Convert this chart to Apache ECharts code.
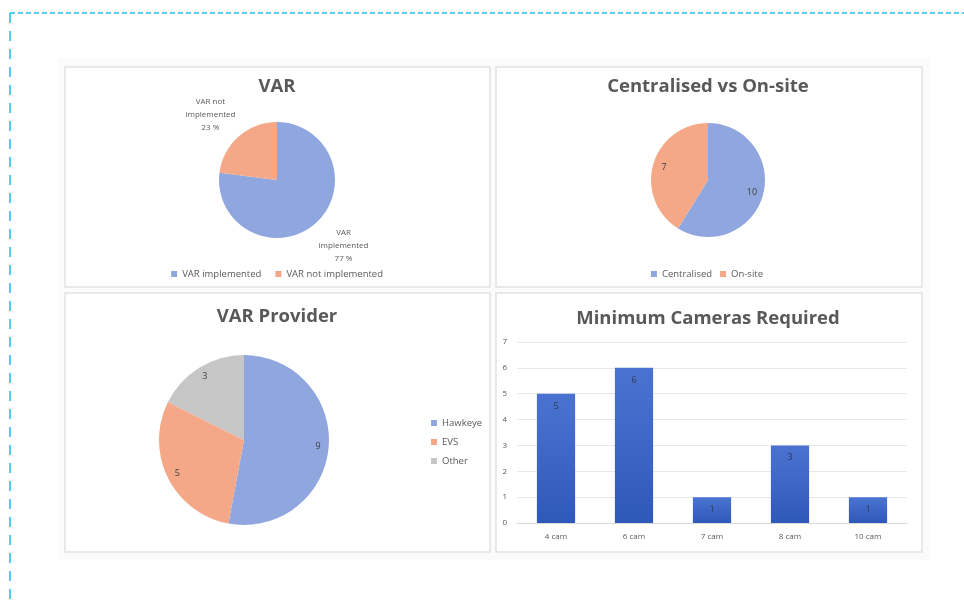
<!DOCTYPE html>
<html style="height: 100%">
<head>
    <meta charset="utf-8">
</head>
<body style="height: 100%; margin: 0; background: #fff">
<div id="container" style="width: 964px; height: 604px"></div>
<script type="text/javascript" src="https://cdn.jsdelivr.net/npm/echarts@6/dist/echarts.min.js"></script>
<script type="text/javascript">
    // data
    var varNames = ['VAR implemented', 'VAR not implemented'];
    var varLabels = ['VAR\nimplemented', 'VAR not\nimplemented'];
    var varValues = [77, 23];

    var siteNames = ['Centralised', 'On-site'];
    var siteValues = [10, 7];

    var providerNames = ['Hawkeye', 'EVS', 'Other'];
    var providerValues = [9, 5, 3];

    var camCategories = ['4 cam', '6 cam', '7 cam', '8 cam', '10 cam'];
    var camValues = [5, 6, 1, 3, 1];

    var pieColors = ['#8fa6de', '#f4a887', '#c6c6c6'];
    var textColor = '#595959';
    var font = 'Open Sans';

    function pieData(names, values) {
        return names.map(function (n, i) {
            return {name: n, value: values[i], itemStyle: {color: pieColors[i]}};
        });
    }
    function legendData(names) {
        return names.map(function (n, i) {
            return {name: n, itemStyle: {color: pieColors[i]}};
        });
    }

    var dom = document.getElementById("container");
    var myChart = echarts.init(dom);

    function titleItem(text, x, y) {
        return {
            text: text, left: x, top: y, textAlign: 'center', padding: 0,
            textStyle: {fontFamily: font, fontSize: 18.5, fontWeight: 'bold', color: textColor}
        };
    }

    function panel(x, y, w, h) {
        return {
            type: 'rect', silent: true,
            shape: {x: x, y: y, width: w, height: h},
            style: {fill: '#fff', stroke: '#e2e2e2', lineWidth: 1.5}
        };
    }

    var legendText = {fontFamily: font, fontSize: 9.5, color: textColor};

    // label-only ring so inside labels sit out toward the rim like the original
    function labelRing(name, center, r, frac, names, values) {
        return {
            name: name, type: 'pie', center: center, radius: [r * frac, r],
            silent: true, z: 5, startAngle: 90,
            label: {position: 'inside', color: '#404040', fontFamily: font, fontSize: 9,
                formatter: '{c}'},
            labelLine: {show: false},
            emphasis: {disabled: true},
            data: names.map(function (n, i) {
                return {name: n, value: values[i], itemStyle: {color: 'transparent'}};
            })
        };
    }

    var option = {
        animation: false,
        backgroundColor: '#fff',
        graphic: [
            {type: 'line', silent: true, shape: {x1: 10, y1: 13, x2: 964, y2: 13},
                style: {stroke: '#14bff0', lineWidth: 1.5, lineDash: [5, 3]}},
            {type: 'line', silent: true, shape: {x1: 10, y1: 13, x2: 10, y2: 604},
                style: {stroke: '#14bff0', lineWidth: 1.5, lineDash: [10, 8]}},
            {type: 'rect', silent: true, shape: {x: 58, y: 58, width: 872, height: 502},
                style: {fill: '#fbfbfb'}},
            panel(65, 67, 425, 220),
            panel(496, 67, 426, 220),
            panel(65, 293, 425, 259),
            panel(496, 293, 426, 259)
        ],
        title: [
            titleItem('VAR', 277, 77),
            titleItem('Centralised vs On-site', 708, 77),
            titleItem('VAR Provider', 277, 307),
            titleItem('Minimum Cameras Required', 708, 309)
        ],
        legend: [
            {data: legendData(varNames), right: 964 - 388, top: 264, itemWidth: 6, itemHeight: 6,
                itemGap: 14, icon: 'rect', textStyle: legendText, selectedMode: false},
            {data: legendData(siteNames), right: 964 - 768, top: 264, itemWidth: 6, itemHeight: 6,
                itemGap: 8, icon: 'rect', textStyle: legendText, selectedMode: false},
            {data: legendData(providerNames), orient: 'vertical', left: 426, top: 413, itemWidth: 6, itemHeight: 6,
                itemGap: 9, icon: 'rect', textStyle: legendText, selectedMode: false}
        ],
        grid: {left: 517, right: 57, top: 342, bottom: 81},
        xAxis: {
            type: 'category', data: camCategories,
            axisLine: {lineStyle: {color: '#d9d9d9'}},
            axisTick: {show: false},
            axisLabel: {fontFamily: font, fontSize: 8, color: textColor, margin: 10}
        },
        yAxis: {
            type: 'value', min: 0, max: 7, interval: 1,
            axisLine: {show: false}, axisTick: {show: false},
            splitLine: {lineStyle: {color: '#e8e8e8'}},
            axisLabel: {fontFamily: font, fontSize: 8, color: textColor, margin: 10}
        },
        series: [
            {
                name: 'VAR', type: 'pie', center: [277, 180], radius: 58,
                startAngle: 90, clockwise: true,
                data: varNames.map(function (n, i) {
                    return {name: n, value: varValues[i], itemStyle: {color: pieColors[i]},
                        label: {formatter: varLabels[i] + '\n{d} %'}};
                }),
                label: {position: 'outside', color: textColor, fontFamily: font, fontSize: 8,
                    lineHeight: 13},
                labelLine: {show: false, length: 29, length2: 4},
                labelLayout: function () {
                    return {align: 'center'};
                },
                emphasis: {disabled: true}
            },
            {
                name: 'Centralised', type: 'pie', center: [708, 180], radius: 57,
                startAngle: 90, label: {show: false}, labelLine: {show: false},
                data: pieData(siteNames, siteValues),
                emphasis: {disabled: true}
            },
            labelRing('Centralised labels', [708, 180], 57, 0.5, siteNames, siteValues),
            {
                name: 'Provider', type: 'pie', center: [244, 440], radius: 85,
                startAngle: 90, label: {show: false}, labelLine: {show: false},
                data: pieData(providerNames, providerValues),
                emphasis: {disabled: true}
            },
            labelRing('Provider labels', [244, 440], 85, 0.68, providerNames, providerValues),
            {
                name: 'Cameras', type: 'bar', data: camValues, barWidth: '49%',
                itemStyle: {
                    color: new echarts.graphic.LinearGradient(0, 0, 0, 1, [
                        {offset: 0, color: '#4a73d1'},
                        {offset: 1, color: '#2f58bb'}
                    ])
                },
                label: {show: true, position: 'insideTop', distance: 8, color: '#303a55',
                    fontFamily: font, fontSize: 9},
                emphasis: {disabled: true}
            }
        ]
    };
    myChart.setOption(option, true);
</script>
</body>
</html>
